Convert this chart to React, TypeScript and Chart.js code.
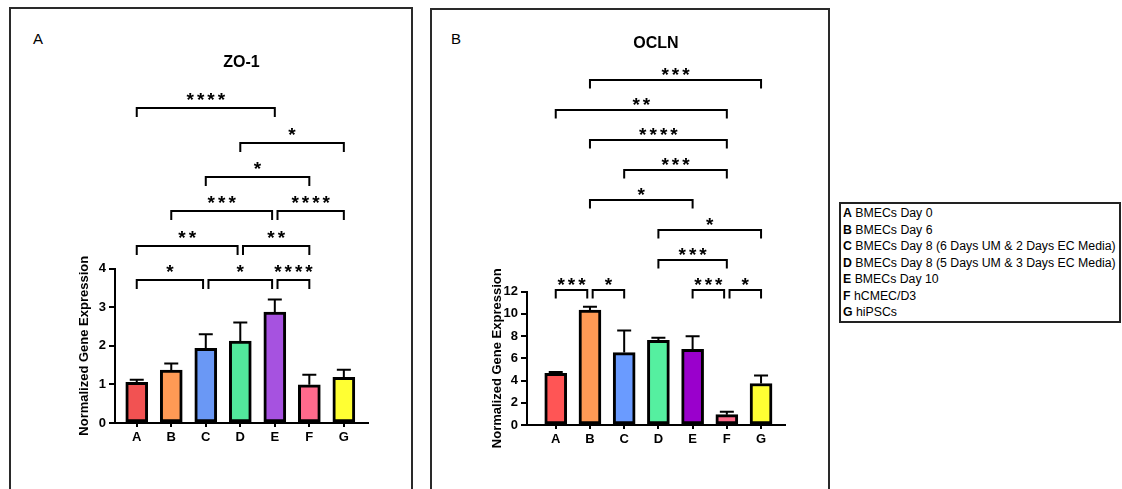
import React, { useEffect, useRef } from 'react';
import { Chart, registerables } from 'chart.js';

Chart.register(...registerables);

const FONT = "'Liberation Sans', Arial, Helvetica, sans-serif";

const CATEGORIES = ['A', 'B', 'C', 'D', 'E', 'F', 'G'];
const LEGEND_NAMES = [
  'BMECs Day 0',
  'BMECs Day 6',
  'BMECs Day 8 (6 Days UM & 2 Days EC Media)',
  'BMECs Day 8 (5 Days UM & 3 Days EC Media)',
  'BMECs Day 10',
  'hCMEC/D3',
  'hiPSCs',
];

// ZO-1 panel
const ZO1_MEAN = [1.05, 1.37, 1.93, 2.12, 2.87, 0.99, 1.18];
const ZO1_SD = [0.07, 0.17, 0.37, 0.48, 0.33, 0.26, 0.2];
const ZO1_COLORS = ['#f25252', '#ff9a55', '#6a98f5', '#52e89c', '#a652e0', '#ff6a8c', '#ffff33'];
const ZO1_Y_MAX = 4;
const ZO1_Y_STEP = 1;
// [from index, to index, stacking level, label]
const ZO1_BRACKETS: [number, number, number, string][] = [
  [0, 2, 0, '*'],
  [2, 4, 0, '*'],
  [4, 5, 0, '****'],
  [0, 3, 1, '**'],
  [3, 5, 1, '**'],
  [1, 4, 2, '***'],
  [4, 6, 2, '****'],
  [2, 5, 3, '*'],
  [3, 6, 4, '*'],
  [0, 4, 5, '****'],
];

// OCLN panel
const OCLN_MEAN = [4.65, 10.33, 6.51, 7.62, 6.81, 0.93, 3.73];
const OCLN_SD = [0.11, 0.31, 1.99, 0.22, 1.17, 0.27, 0.73];
const OCLN_COLORS = ['#ff5555', '#ff9a55', '#6a9bff', '#55f0a0', '#9a00cc', '#ff6a8a', '#ffff33'];
const OCLN_Y_MAX = 12;
const OCLN_Y_STEP = 2;
const OCLN_BRACKETS: [number, number, number, string][] = [
  [0, 1, 0, '***'],
  [1, 2, 0, '*'],
  [4, 5, 0, '***'],
  [5, 6, 0, '*'],
  [3, 5, 1, '***'],
  [3, 6, 2, '*'],
  [1, 4, 3, '*'],
  [2, 5, 4, '***'],
  [1, 5, 5, '****'],
  [0, 5, 6, '**'],
  [1, 6, 7, '***'],
];

const sigPlugin = {
  id: 'sigAnnot',
  afterDatasetsDraw(chart: any, _args: any, opts: any) {
    const { ctx } = chart;
    const xs = chart.scales.x;
    const ys = chart.scales.y;
    ctx.save();
    ctx.strokeStyle = '#000';
    ctx.fillStyle = '#000';
    ctx.lineWidth = 2;
    ctx.lineJoin = 'miter';
    // error bars (upper half)
    const mean: number[] = opts.mean;
    const sd: number[] = opts.sd;
    mean.forEach((m, i) => {
      const x = xs.getPixelForValue(i);
      const y0 = ys.getPixelForValue(m);
      const y1 = ys.getPixelForValue(m + sd[i]);
      ctx.beginPath();
      ctx.moveTo(x, y0);
      ctx.lineTo(x, y1);
      ctx.moveTo(x - opts.capHalf, y1);
      ctx.lineTo(x + opts.capHalf, y1);
      ctx.stroke();
    });
    // significance brackets
    const br: [number, number, number, string][] = opts.brackets;
    ctx.font = `bold ${opts.starSize}px ${FONT}`;
    (ctx as any).letterSpacing = opts.starSpacing + 'px';
    ctx.textAlign = 'center';
    ctx.textBaseline = 'alphabetic';
    br.forEach(([a, b, lvl, label]) => {
      let x1 = xs.getPixelForValue(a);
      let x2 = xs.getPixelForValue(b);
      if (br.some((o) => o[2] === lvl && o[1] === a)) x1 += opts.gap;
      if (br.some((o) => o[2] === lvl && o[0] === b)) x2 -= opts.gap;
      const y = Math.round(ys.getPixelForValue(opts.base + lvl * opts.step));
      ctx.beginPath();
      ctx.moveTo(x1, y + opts.tick);
      ctx.lineTo(x1, y);
      ctx.lineTo(x2, y);
      ctx.lineTo(x2, y + opts.tick);
      ctx.stroke();
      ctx.fillText(label, (x1 + x2) / 2 + opts.starSpacing / 2, y + opts.labelBaseline);
    });
    ctx.restore();
  },
};

type PanelSpec = {
  title: string;
  mean: number[];
  sd: number[];
  colors: string[];
  yMax: number;
  yStep: number;
  brackets: [number, number, number, string][];
  width: number;
  height: number;
  xMin: number;
  xMax: number;
  yWidth: number;
  pad: { left: number; right: number; bottom: number };
  titlePadTop: number;
  titlePadBottom: number;
  base: number;
  step: number;
  tick: number;
  labelBaseline: number;
};

function BarPanel({ spec, left, top }: { spec: PanelSpec; left: number; top: number }) {
  const ref = useRef<HTMLCanvasElement>(null);
  useEffect(() => {
    if (!ref.current) return;
    const tickFont = { family: FONT, size: 13, weight: 'bold' as const };
    const chart = new Chart(ref.current, {
      type: 'bar',
      data: {
        datasets: [
          {
            data: spec.mean.map((v, i) => ({ x: i, y: v })),
            backgroundColor: spec.colors,
            borderColor: '#000',
            borderWidth: 3,
            borderSkipped: false,
            barThickness: 22,
          },
        ],
      },
      options: {
        responsive: false,
        animation: false,
        devicePixelRatio: 1,
        layout: { padding: { left: spec.pad.left, right: spec.pad.right, top: 0, bottom: spec.pad.bottom } },
        plugins: {
          legend: { display: false },
          tooltip: { enabled: false },
          title: {
            display: true,
            text: spec.title,
            fullSize: false,
            color: '#000',
            font: { family: FONT, size: 16, weight: 'bold', lineHeight: 1.2 },
            padding: { top: spec.titlePadTop, bottom: spec.titlePadBottom },
          },
          sigAnnot: {
            mean: spec.mean,
            sd: spec.sd,
            brackets: spec.brackets,
            base: spec.base,
            step: spec.step,
            tick: spec.tick,
            gap: 2.7,
            capHalf: 7,
            starSize: 19,
            starSpacing: 3,
            labelBaseline: spec.labelBaseline,
          },
        } as any,
        scales: {
          x: {
            type: 'linear',
            min: spec.xMin,
            max: spec.xMax,
            offset: false,
            ticks: {
              stepSize: 1,
              includeBounds: false,
              autoSkip: false,
              maxRotation: 0,
              color: '#000',
              font: tickFont,
              padding: 3,
              callback: (v: any) => (Number.isInteger(v) && CATEGORIES[v] ? CATEGORIES[v] : ''),
            },
            grid: { drawOnChartArea: false, offset: false, tickLength: 4, color: '#000', lineWidth: 2 },
            border: { display: true, color: '#000', width: 2 },
            afterFit: (s: any) => {
              s.height = 30;
            },
          },
          y: {
            min: 0,
            max: spec.yMax,
            ticks: { stepSize: spec.yStep, color: '#000', font: tickFont, padding: 3 },
            grid: { drawOnChartArea: false, tickLength: 6, color: '#000', lineWidth: 2 },
            border: { display: true, color: '#000', width: 2 },
            title: {
              display: true,
              text: 'Normalized Gene Expression',
              color: '#000',
              font: { family: FONT, size: 13, weight: 'bold', lineHeight: 1.2 },
              padding: 0,
            },
            afterFit: (s: any) => {
              s.width = spec.yWidth;
            },
          },
        } as any,
      },
      plugins: [sigPlugin],
    });
    return () => chart.destroy();
  }, [spec]);
  return (
    <canvas
      ref={ref}
      width={spec.width}
      height={spec.height}
      style={{ position: 'absolute', left, top, width: spec.width, height: spec.height, display: 'block' }}
    />
  );
}

const ZO1_SPEC: PanelSpec = {
  title: 'ZO-1',
  mean: ZO1_MEAN,
  sd: ZO1_SD,
  colors: ZO1_COLORS,
  yMax: ZO1_Y_MAX,
  yStep: ZO1_Y_STEP,
  brackets: ZO1_BRACKETS,
  width: 402,
  height: 481,
  xMin: -0.63,
  xMax: 6.7,
  yWidth: 38,
  pad: { left: 67, right: 44, bottom: 36 },
  titlePadTop: 45,
  titlePadBottom: 196.3,
  base: 3.7,
  step: 0.89,
  tick: 9,
  labelBaseline: -2,
};

const OCLN_SPEC: PanelSpec = {
  title: 'OCLN',
  mean: OCLN_MEAN,
  sd: OCLN_SD,
  colors: OCLN_COLORS,
  yMax: OCLN_Y_MAX,
  yStep: OCLN_Y_STEP,
  brackets: OCLN_BRACKETS,
  width: 397,
  height: 480,
  xMin: -0.84,
  xMax: 6.7,
  yWidth: 37,
  pad: { left: 58, right: 44, bottom: 34 },
  titlePadTop: 25,
  titlePadBottom: 238.3,
  base: 12.14,
  step: 2.69,
  tick: 8.5,
  labelBaseline: 1,
};

export default function App() {
  const frame = (left: number, top: number, width: number, height: number): React.CSSProperties => ({
    position: 'absolute',
    left,
    top,
    width,
    height,
    boxSizing: 'border-box',
    borderTop: '2px solid #2a2a2a',
    borderLeft: '2px solid #2a2a2a',
    borderRight: '2px solid #2a2a2a',
    borderBottom: 'none',
    background: '#fff',
  });
  const letter: React.CSSProperties = {
    position: 'absolute',
    fontFamily: FONT,
    fontSize: 15,
    color: '#000',
    lineHeight: '15px',
  };
  return (
    <div style={{ position: 'absolute', left: 0, top: 0, width: 1122, height: 489, background: '#fff', overflow: 'hidden' }}>
      <div style={frame(9, 7, 404, 482)} />
      <div style={frame(430, 8, 400, 481)} />
      <div style={{ ...letter, left: 33, top: 31 }}>A</div>
      <div style={{ ...letter, left: 451, top: 31 }}>B</div>
      <BarPanel spec={ZO1_SPEC} left={10} top={8} />
      <BarPanel spec={OCLN_SPEC} left={432} top={9} />
      <div
        style={{
          position: 'absolute',
          left: 839,
          top: 202,
          width: 282,
          height: 121,
          boxSizing: 'border-box',
          border: '2px solid #222',
          fontFamily: FONT,
          fontSize: 12.3,
          lineHeight: '16.5px',
          color: '#000',
          padding: '1px 0 0 2px',
          background: '#fff',
        }}
      >
        {CATEGORIES.map((c, i) => (
          <div key={c} style={{ whiteSpace: 'nowrap' }}>
            <b>{c}</b> {LEGEND_NAMES[i]}
          </div>
        ))}
      </div>
    </div>
  );
}
